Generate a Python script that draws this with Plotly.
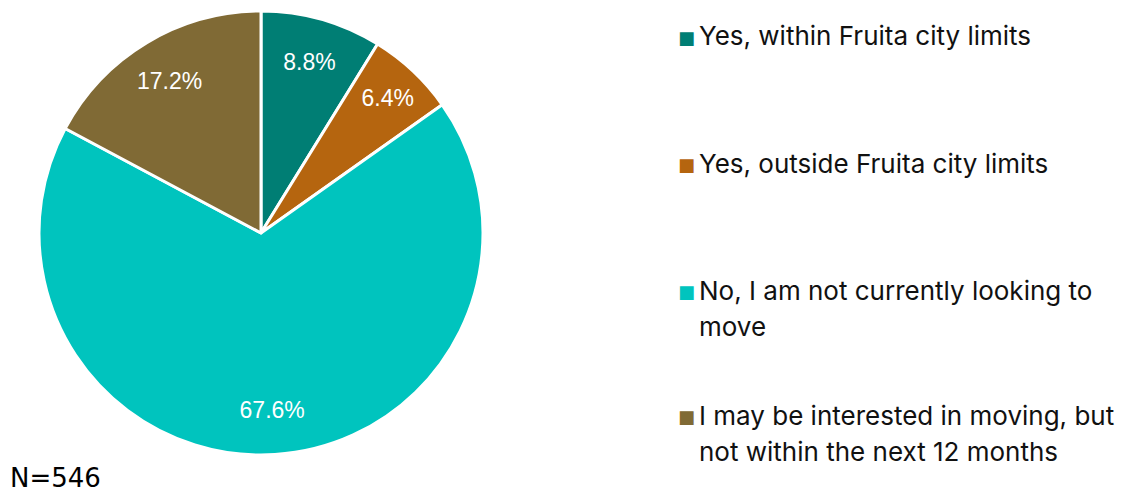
import plotly.graph_objects as go

labels = ['Yes, within Fruita city limits',
          'Yes, outside Fruita city limits',
          'No, I am not currently looking to move',
          'I may be interested in moving, but not within the next 12 months']
legend_lines = [['Yes, within Fruita city limits'],
                ['Yes, outside Fruita city limits'],
                ['No, I am not currently looking to', 'move'],
                ['I may be interested in moving, but', 'not within the next 12 months']]
values = [8.8, 6.4, 67.6, 17.2]
colors = ['#007E74', '#B5650F', '#00C4BE', '#806A35']

# the page body has an 8px margin, so the figure is drawn 8px in
OFF = 8
W, H = 1138 - OFF, 496 - OFF


def px(x):
    return (x - OFF) / W


def py(y):
    return 1 - (y - OFF) / H


pie_domain = dict(x=[px(39), px(483)], y=[py(455), py(11)])

fig = go.Figure()
fig.add_trace(go.Pie(
    labels=labels,
    values=values,
    sort=False,
    direction='clockwise',
    rotation=0,
    marker=dict(colors=colors, line=dict(color='white', width=3)),
    textinfo='none',
    domain=pie_domain,
    showlegend=False,
    hoverinfo='label+value',
))
# transparent ring on top, only to carry the percentage labels further out
fig.add_trace(go.Pie(
    labels=labels,
    values=values,
    sort=False,
    direction='clockwise',
    rotation=0,
    hole=0.6,
    marker=dict(colors=['rgba(0,0,0,0)'] * len(values), line=dict(width=0)),
    texttemplate='%{value:.1f}%',
    textposition='inside',
    insidetextorientation='horizontal',
    textfont=dict(color='white', size=23, family='Liberation Sans, Arial'),
    domain=pie_domain,
    showlegend=False,
    hoverinfo='skip',
))

# hand-made legend, spaced like the original
first_line_y = [36, 163, 290, 415]
line_gap = 36
annotations = []
for i in range(len(labels)):
    y0 = first_line_y[i]
    annotations.append(dict(
        x=px(676), y=py(y0 + 1), xref='paper', yref='paper',
        xanchor='left', yanchor='middle', showarrow=False,
        text='■', font=dict(color=colors[i], size=18, family='DejaVu Sans'),
    ))
    for j, line in enumerate(legend_lines[i]):
        annotations.append(dict(
            x=px(697), y=py(y0 + j * line_gap), xref='paper', yref='paper',
            xanchor='left', yanchor='middle', showarrow=False,
            text=line, font=dict(color='#111111', size=26, family='Inter'),
        ))

annotations.append(dict(
    x=px(8), y=py(478), xref='paper', yref='paper',
    xanchor='left', yanchor='middle', showarrow=False,
    text='N=546', font=dict(color='black', size=26, family='DejaVu Sans'),
))

fig.update_layout(
    width=W, height=H,
    margin=dict(l=0, r=0, t=0, b=0),
    paper_bgcolor='white',
    plot_bgcolor='white',
    annotations=annotations,
)

fig.write_html('out.html')
